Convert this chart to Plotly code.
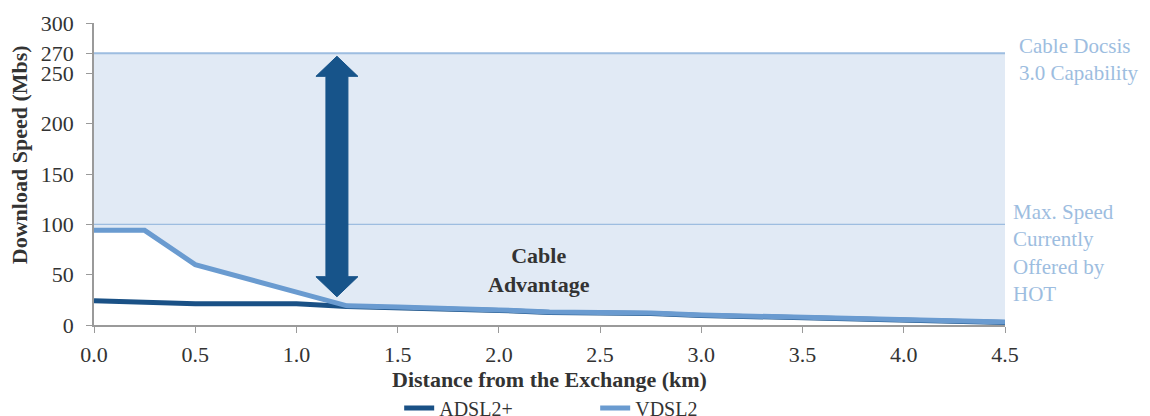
import plotly.graph_objects as go

distance_km = [0.0, 0.25, 0.5, 0.75, 1.0, 1.25, 1.5, 1.75, 2.0, 2.25, 2.5, 2.75, 3.0, 3.25, 3.5, 3.75, 4.0, 4.25, 4.5]
adsl2_plus = [24, 22, 21, 21, 21, 18.5, 17.5, 16.5, 14.5, 12.5, 12.5, 11.5, 9.5, 8.5, 6.5, 5.5, 4.5, 3.5, 2.5]
vdsl2 = [94, 94, 60, 46, 32, 19, 18, 17, 15, 13, 13, 12, 10, 9, 7, 6, 5, 4, 3]
cable_docsis_cap = 270
hot_max_speed = 100
y_tick_vals = [0, 50, 100, 150, 200, 250, 270, 300]
x_tick_vals = [0.0, 0.5, 1.0, 1.5, 2.0, 2.5, 3.0, 3.5, 4.0, 4.5]

FONT = "Liberation Serif"
DARK = "#1a5186"
LIGHT = "#6a9bd0"
REF = "#9dbde0"
FILL = "#e1eaf5"
TXT = "#333333"

fig = go.Figure()

# Cable capability line (top of shaded area)
fig.add_trace(go.Scatter(x=distance_km, y=[cable_docsis_cap] * len(distance_km), mode="lines",
                         line=dict(color=REF, width=2), showlegend=False, hoverinfo="skip"))
# Shaded "cable advantage" region between VDSL2 and cable capability
fig.add_trace(go.Scatter(x=distance_km, y=vdsl2, mode="lines", line=dict(width=0),
                         fill="tonexty", fillcolor=FILL, showlegend=False, hoverinfo="skip"))
# Max speed currently offered line
fig.add_trace(go.Scatter(x=[distance_km[0], distance_km[-1]], y=[hot_max_speed, hot_max_speed], mode="lines",
                         line=dict(color=REF, width=1.2), showlegend=False, hoverinfo="skip"))

fig.add_trace(go.Scatter(x=distance_km, y=adsl2_plus, mode="lines", name="ADSL2+",
                         line=dict(color=DARK, width=5)))
fig.add_trace(go.Scatter(x=distance_km, y=vdsl2, mode="lines", name="VDSL2",
                         line=dict(color=LIGHT, width=5)))

# Double-headed arrow (x in pixels around anchor, y in data units)
ax_x = 1.2
y_lo, y_hi = 28, 267
head_h, head_w, shaft_w = 20, 21, 11
path = (f"M 0,{y_lo} L {head_w},{y_lo + head_h} L {shaft_w},{y_lo + head_h} "
        f"L {shaft_w},{y_hi - head_h} L {head_w},{y_hi - head_h} L 0,{y_hi} "
        f"L {-head_w},{y_hi - head_h} L {-shaft_w},{y_hi - head_h} L {-shaft_w},{y_lo + head_h} "
        f"L {-head_w},{y_lo + head_h} Z")
fig.add_shape(type="path", xref="x", yref="y", xsizemode="pixel", xanchor=ax_x, path=path,
              fillcolor="#17548a", line=dict(color="#17548a", width=1))

fig.add_annotation(x=2.2, y=55, xref="x", yref="y", text="<b>Cable<br>Advantage</b>", showarrow=False,
                   font=dict(family=FONT, size=22, color=TXT), align="center")
fig.add_annotation(x=1.013, y=291, xref="paper", yref="y", xanchor="left", yanchor="top",
                   text="Cable Docsis<br>3.0 Capability", showarrow=False, align="left",
                   font=dict(family=FONT, size=21, color=REF))
fig.add_annotation(x=1.007, y=126, xref="paper", yref="y", xanchor="left", yanchor="top",
                   text="Max. Speed<br>Currently<br>Offered by<br>HOT", showarrow=False, align="left",
                   font=dict(family=FONT, size=21, color=REF))

# Axis titles
fig.add_annotation(x=0.5, y=-0.182, xref="paper", yref="paper", xanchor="center", yanchor="middle",
                   text="<b>Distance from the Exchange (km)</b>", showarrow=False,
                   font=dict(family=FONT, size=22, color=TXT))
fig.add_annotation(x=-0.081, y=0.563, xref="paper", yref="paper", xanchor="center", yanchor="middle",
                   text="<b>Download Speed (Mbs)</b>", showarrow=False, textangle=-90,
                   font=dict(family=FONT, size=22, color=TXT))

# Page body adds an 8px offset; figure is sized so the plot lands where the reference has it.
fig.update_layout(
    width=1142, height=408,
    margin=dict(l=86, r=145, t=15, b=91, autoexpand=False),
    plot_bgcolor="white", paper_bgcolor="white",
    font=dict(family=FONT, size=22, color=TXT),
    legend=dict(orientation="h", x=0.335, xanchor="left", y=-0.275, yanchor="middle",
                font=dict(family=FONT, size=20, color=TXT), entrywidth=151, entrywidthmode="pixels",
                traceorder="normal"),
    xaxis=dict(range=[0, 4.5], tickvals=x_tick_vals, tickformat=".1f", showgrid=False, zeroline=False,
               showline=True, linecolor="#9a9a9a", linewidth=1.5, ticks="outside", ticklen=6,
               tickcolor="#9a9a9a", tickfont=dict(size=22), automargin=False, ticklabelstandoff=3),
    yaxis=dict(range=[0, 300], tickvals=y_tick_vals, showgrid=False, zeroline=False,
               showline=True, linecolor="#9a9a9a", linewidth=1.5, ticks="outside", ticklen=6,
               tickcolor="#9a9a9a", tickfont=dict(size=22), automargin=False, ticklabelstandoff=8),
)

fig.write_html("out.html")
